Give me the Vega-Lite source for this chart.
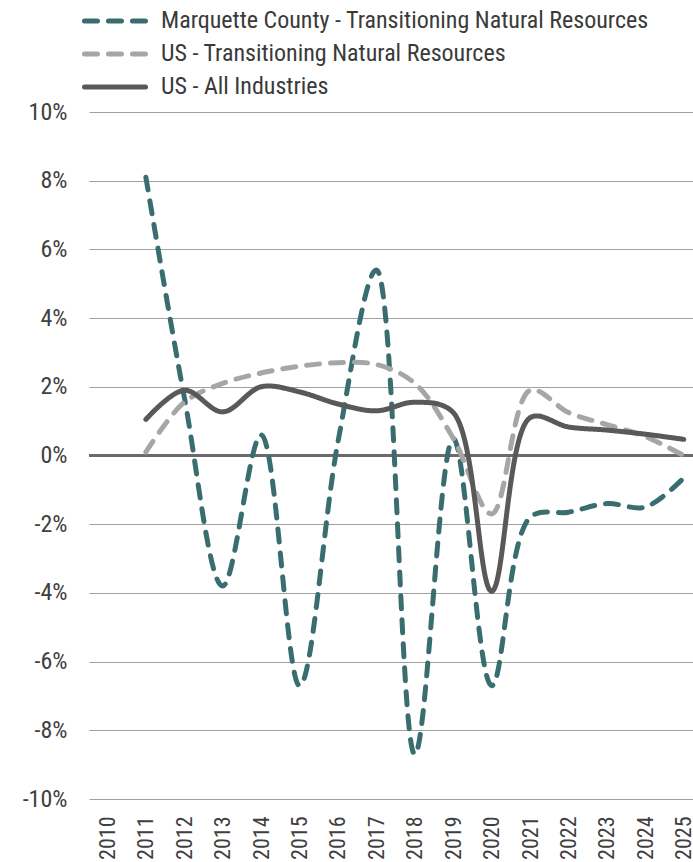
{
  "$schema": "https://vega.github.io/schema/vega-lite/v6.json",
  "autosize": {"type": "none"},
  "padding": {"left": 89, "top": 112, "right": 0, "bottom": 63},
  "width": 604,
  "height": 687,
  "background": "white",
  "config": {
    "view": {"stroke": null},
    "font": "Roboto Condensed, Roboto, sans-serif",
    "axis": {
      "labelFont": "Roboto Condensed, Roboto, sans-serif",
      "labelColor": "#404040",
      "labelFontSize": 24,
      "domain": false,
      "ticks": false,
      "title": null
    },
    "legend": {
      "labelFont": "Roboto Condensed, Roboto, sans-serif",
      "labelColor": "#3a3a3a",
      "labelFontSize": 24,
      "labelLimit": 0,
      "padding": 0
    }
  },
  "data": {
    "values": [
      {"year": 2011, "series": "Marquette County - Transitioning Natural Resources", "pct": 8.1},
      {"year": 2012, "series": "Marquette County - Transitioning Natural Resources", "pct": 1.7},
      {"year": 2013, "series": "Marquette County - Transitioning Natural Resources", "pct": -3.8},
      {"year": 2014, "series": "Marquette County - Transitioning Natural Resources", "pct": 0.6},
      {"year": 2015, "series": "Marquette County - Transitioning Natural Resources", "pct": -6.7},
      {"year": 2016, "series": "Marquette County - Transitioning Natural Resources", "pct": 0.4},
      {"year": 2017, "series": "Marquette County - Transitioning Natural Resources", "pct": 5.4},
      {"year": 2018, "series": "Marquette County - Transitioning Natural Resources", "pct": -8.7},
      {"year": 2019, "series": "Marquette County - Transitioning Natural Resources", "pct": 0.5},
      {"year": 2020, "series": "Marquette County - Transitioning Natural Resources", "pct": -6.7},
      {"year": 2021, "series": "Marquette County - Transitioning Natural Resources", "pct": -1.8},
      {"year": 2022, "series": "Marquette County - Transitioning Natural Resources", "pct": -1.65},
      {"year": 2023, "series": "Marquette County - Transitioning Natural Resources", "pct": -1.4},
      {"year": 2024, "series": "Marquette County - Transitioning Natural Resources", "pct": -1.5},
      {"year": 2025, "series": "Marquette County - Transitioning Natural Resources", "pct": -0.65},
      {"year": 2011, "series": "US - Transitioning Natural Resources", "pct": 0.1},
      {"year": 2012, "series": "US - Transitioning Natural Resources", "pct": 1.55},
      {"year": 2013, "series": "US - Transitioning Natural Resources", "pct": 2.1},
      {"year": 2014, "series": "US - Transitioning Natural Resources", "pct": 2.4},
      {"year": 2015, "series": "US - Transitioning Natural Resources", "pct": 2.6},
      {"year": 2016, "series": "US - Transitioning Natural Resources", "pct": 2.7},
      {"year": 2017, "series": "US - Transitioning Natural Resources", "pct": 2.65},
      {"year": 2018, "series": "US - Transitioning Natural Resources", "pct": 2.1},
      {"year": 2019, "series": "US - Transitioning Natural Resources", "pct": 0.5},
      {"year": 2020, "series": "US - Transitioning Natural Resources", "pct": -1.7},
      {"year": 2021, "series": "US - Transitioning Natural Resources", "pct": 1.9},
      {"year": 2022, "series": "US - Transitioning Natural Resources", "pct": 1.25},
      {"year": 2023, "series": "US - Transitioning Natural Resources", "pct": 0.9},
      {"year": 2024, "series": "US - Transitioning Natural Resources", "pct": 0.55},
      {"year": 2025, "series": "US - Transitioning Natural Resources", "pct": 0.0},
      {"year": 2011, "series": "US - All Industries", "pct": 1.05},
      {"year": 2012, "series": "US - All Industries", "pct": 1.9},
      {"year": 2013, "series": "US - All Industries", "pct": 1.27},
      {"year": 2014, "series": "US - All Industries", "pct": 2.0},
      {"year": 2015, "series": "US - All Industries", "pct": 1.85},
      {"year": 2016, "series": "US - All Industries", "pct": 1.5},
      {"year": 2017, "series": "US - All Industries", "pct": 1.3},
      {"year": 2018, "series": "US - All Industries", "pct": 1.55},
      {"year": 2019, "series": "US - All Industries", "pct": 1.25},
      {"year": 2020, "series": "US - All Industries", "pct": -3.95},
      {"year": 2021, "series": "US - All Industries", "pct": 1.1},
      {"year": 2022, "series": "US - All Industries", "pct": 0.83},
      {"year": 2023, "series": "US - All Industries", "pct": 0.74},
      {"year": 2024, "series": "US - All Industries", "pct": 0.62},
      {"year": 2025, "series": "US - All Industries", "pct": 0.47}
    ]
  },
  "encoding": {
    "x": {
      "field": "year",
      "type": "quantitative",
      "scale": {"domain": [2009.52, 2025.24], "nice": false, "zero": false},
      "axis": {
        "values": [2010, 2011, 2012, 2013, 2014, 2015, 2016, 2017, 2018, 2019, 2020, 2021, 2022, 2023, 2024, 2025],
        "labelExpr": "'' + datum.value",
        "labelAngle": -90,
        "labelFontSize": 22,
        "labelPadding": 17,
        "labelFlush": false,
        "labelOverlap": false,
        "labelBound": false,
        "grid": false
      }
    },
    "y": {
      "field": "pct",
      "type": "quantitative",
      "scale": {"domain": [-10, 10], "nice": false},
      "axis": {
        "values": [-10, -8, -6, -4, -2, 0, 2, 4, 6, 8, 10],
        "labelExpr": "datum.value + '%'",
        "labelPadding": 22,
        "grid": true,
        "gridColor": "#a0a0a0",
        "gridWidth": 1.2
      }
    }
  },
  "layer": [
    {
      "mark": {"type": "rule", "color": "#6b6b6b", "strokeWidth": 2.5},
      "encoding": {"y": {"datum": 0}, "x": null}
    },
    {
      "mark": {"type": "line", "interpolate": "catmull-rom", "strokeWidth": 5, "strokeCap": "round"},
      "encoding": {
        "color": {
          "field": "series",
          "type": "nominal",
          "scale": {
            "domain": ["Marquette County - Transitioning Natural Resources", "US - Transitioning Natural Resources", "US - All Industries"],
            "range": ["#3a6d70", "#a6a6a6", "#595959"]
          },
          "legend": {
            "title": null,
            "orient": "none",
            "direction": "vertical",
            "legendX": 14,
            "legendY": -103,
            "symbolType": "M-4,0L4,0",
            "symbolSize": 233,
            "symbolStrokeWidth": 5,
            "labelOffset": 34,
            "rowPadding": 9,
            "encode": {"symbols": {"update": {"strokeCap": {"value": "round"}}}}
          }
        },
        "strokeDash": {
          "field": "series",
          "type": "nominal",
          "scale": {
            "domain": ["Marquette County - Transitioning Natural Resources", "US - Transitioning Natural Resources", "US - All Industries"],
            "range": [[13, 11], [13, 11], [1, 0]]
          },
          "legend": {
            "title": null,
            "orient": "none",
            "direction": "vertical",
            "legendX": 14,
            "legendY": -103,
            "symbolType": "M-4,0L4,0",
            "symbolSize": 233,
            "symbolStrokeWidth": 5,
            "labelOffset": 34,
            "rowPadding": 9,
            "encode": {"symbols": {"update": {"strokeCap": {"value": "round"}}}}
          }
        }
      }
    }
  ]
}
